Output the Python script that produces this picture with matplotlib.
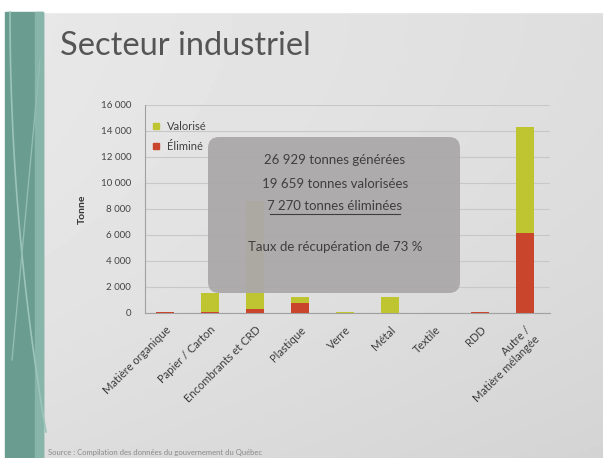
import numpy as np
import matplotlib.pyplot as plt
from matplotlib.patches import FancyBboxPatch, Rectangle
from matplotlib.lines import Line2D

# data (tonnes)
categories = ["Matière organique", "Papier / Carton", "Encombrants et CRD",
              "Plastique", "Verre", "Métal", "Textile", "RDD",
              "Autre /\nMatière mélangée"]
valorise = [20, 1500, 8300, 450, 60, 1200, 0, 30, 8150]
elimine = [80, 50, 300, 780, 20, 30, 0, 60, 6150]
yticks = [0, 2000, 4000, 6000, 8000, 10000, 12000, 14000, 16000]
box_lines = ["26 929 tonnes générées", "19 659 tonnes valorisées",
             "7 270 tonnes éliminées", "Taux de récupération de 73 %"]

plt.rcParams['font.family'] = ['Lato', 'DejaVu Sans']

W, H = 603, 458
fig = plt.figure(figsize=(W / 100, H / 100), dpi=100)

# slide background (photo of a projected slide)
bg = fig.add_axes([0, 0, 1, 1], zorder=0)
bg.set_xlim(0, W)
bg.set_ylim(H, 0)
bg.axis("off")
GX, GY = np.meshgrid(np.linspace(0, 1, 200), np.linspace(0, 1, 150))
shade = 0.91 - 0.04 * GX - 0.04 * GY ** 2
bg.imshow(shade, cmap="gray", vmin=0, vmax=1, extent=[0, W, H, 0],
          aspect="auto", zorder=0)
bg.add_patch(Rectangle((0, 0), W, 12, color="white", zorder=1))
bg.add_patch(Rectangle((0, 0), 5, H, color="white", zorder=1))
bg.add_patch(Rectangle((5, 12), 38, H - 12, color="#6a9c8f", zorder=1))
bg.add_patch(Rectangle((35, 12), 8, H - 12, color="#88b5a9", zorder=1))
tt = np.linspace(0, 1, 50)
bg.plot(10 + 36 * tt ** 2, 12 + 420 * tt, color="#9cc4b9", lw=1.2, zorder=2)
bg.plot(40 - 28 * tt, 60 + 300 * tt, color="#92bdb1", lw=1, zorder=2)

bg.text(60, 46, "Secteur industriel", fontsize=23.5, color="#555555",
        va="center", ha="left", zorder=3)
bg.text(48, 452, "Source : Compilation des données du gouvernement du Québec",
        fontsize=5.5, color="#8a8a8a", va="center", ha="left", zorder=3)

# chart
ax = fig.add_axes([145 / W, 1 - 313 / H, 405 / W, 208 / H], zorder=1)
ax.set_facecolor("none")
x = np.arange(len(categories))
ax.bar(x, elimine, width=0.4, color="#c9452b", zorder=3)
ax.bar(x, valorise, width=0.4, bottom=elimine, color="#bfc531", zorder=3)

ax.set_xlim(-0.444, 8.556)
ax.set_ylim(0, 16000)
ax.set_yticks(yticks)
ax.set_yticklabels([f"{v:,}".replace(",", " ") for v in yticks],
                   fontsize=7, color="#444444")
ax.grid(axis="y", color="#c8c8c8", lw=0.8, zorder=0)
ax.set_xticks(x)
ax.set_xticklabels(categories, rotation=45, ha="right",
                   rotation_mode="anchor", fontsize=8, color="#3c3c3c")
ax.tick_params(length=0, pad=8)
ax.tick_params(axis="y", pad=10)
for s in ["top", "right"]:
    ax.spines[s].set_visible(False)
ax.spines["left"].set_color("#a0a0a0")
ax.spines["bottom"].set_color("#a0a0a0")
ax.set_ylabel("Tonne", fontsize=7.5, fontweight="bold", color="#333333",
              labelpad=10)

handles = [Line2D([], [], marker="s", ls="", color="#bfc531", markersize=5),
           Line2D([], [], marker="s", ls="", color="#c9452b", markersize=5)]
ax.legend(handles, ["Valorisé", "Éliminé"], loc="upper left", frameon=False,
          fontsize=8, handletextpad=0.0, labelspacing=0.8,
          bbox_to_anchor=(-0.025, 0.97), labelcolor="#404040")

# grey overlay box with the totals
ov = fig.add_axes([0, 0, 1, 1], zorder=2)
ov.set_xlim(0, W)
ov.set_ylim(H, 0)
ov.axis("off")
ov.patch.set_alpha(0)
ov.add_patch(FancyBboxPatch((208, 137), 252, 156,
                            boxstyle="round,pad=0,rounding_size=11",
                            fc="#aba8aa", ec="none", alpha=0.94))
for t, yy in zip(box_lines, [160, 184, 206, 247]):
    ov.text(335, yy, t, fontsize=9.5, color="#3e3e3e",
            ha="center", va="center")
ov.plot([270, 400], [214, 214], color="#3e3e3e", lw=0.8)

fig.savefig("out.png", dpi=100)
